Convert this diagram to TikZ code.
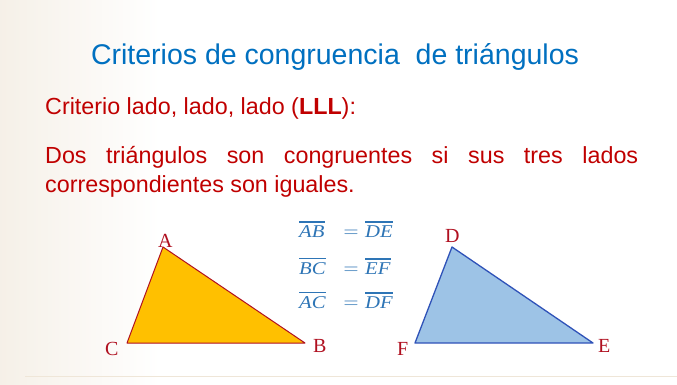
\documentclass[tikz,border=0pt]{standalone}
\usepackage{fontspec}
\setmainfont{Liberation Sans}
\newfontfamily\serifont{Liberation Serif}
\newfontfamily\eqfont[FakeStretch=1.15]{Liberation Serif}
\definecolor{titleblue}{HTML}{0070C0}
\definecolor{darkred}{HTML}{C00000}
\definecolor{labelred}{HTML}{B01020}
\definecolor{goldfill}{HTML}{FFC000}
\definecolor{bluefill}{HTML}{9DC3E6}
\definecolor{bluestroke}{HTML}{2F52B8}
\definecolor{eqblue}{HTML}{2E75B6}
\definecolor{beige}{HTML}{EFE6D8}
\tikzset{
  vlabel/.style={font=\serifont\fontsize{20}{20}\selectfont, text=labelred, inner sep=0pt, anchor=base west},
  eqtext/.style={font=\eqfont\itshape\fontsize{18}{18}\selectfont, text=eqblue, inner sep=0pt, anchor=base west},
  eqsign/.style={font=\fontsize{22}{22}\selectfont, text=eqblue, inner sep=0pt, anchor=base},
  eqbar/.style={draw=eqblue, line width=1.2pt},
  bodytext/.style={font=\fontsize{23.3}{29}\selectfont, text=darkred, inner sep=0pt, anchor=base west}
}
\newcommand{\barover}[1]{\draw[eqbar] ([yshift=3pt]#1.north west) -- ([yshift=3pt]#1.north east);}
\begin{document}
\begin{tikzpicture}[x=1pt,y=-1pt]
\useasboundingbox (0,0) rectangle (677,384);
\fill[white] (0,0) rectangle (677,384);
\shade[left color=beige!60, right color=white] (0,0) rectangle (160,384);
\draw[beige, line width=1pt] (25,376) -- (677,376);
% title
\node[font=\fontsize{28.5}{30}\selectfont, text=titleblue, inner sep=0pt, anchor=base] (title) at (335,64.5) {Criterios de congruencia\ \ de triángulos};
\node[bodytext] (crit) at (45,114) {Criterio lado, lado, lado (\textbf{LLL}):};
\node[bodytext] (def1) at (45,163) {\makebox[593pt][s]{Dos triángulos son congruentes si sus tres lados}};
\node[bodytext] (def2) at (45,192) {correspondientes son iguales.};
% triangle ABC
\coordinate (A) at (163,247);
\coordinate (B) at (305,343);
\coordinate (C) at (127,343);
\filldraw[fill=goldfill, draw=labelred, line width=1pt, line join=round] (A) -- (B) -- (C) -- cycle;
\node[vlabel] (lA) at (158,247) {A};
\node[vlabel] (lB) at (313,352) {B};
\node[vlabel] (lC) at (105,355) {C};
% triangle DEF
\coordinate (D) at (452,247);
\coordinate (E) at (593,343);
\coordinate (F) at (415,343);
\filldraw[fill=bluefill, draw=bluestroke, line width=1.3pt, line join=round] (D) -- (E) -- (F) -- cycle;
\node[vlabel] (lD) at (445,242) {D};
\node[vlabel] (lE) at (598,352) {E};
\node[vlabel] (lF) at (397,355) {F};
% equations
\node[eqtext] (l1) at (299,237) {AB};
\node[eqsign] (s1) at (351,237) {$=$};
\node[eqtext] (r1) at (365,237) {DE};
\node[eqtext] (l2) at (299,274) {BC};
\node[eqsign] (s2) at (351,274) {$=$};
\node[eqtext] (r2) at (365,274) {EF};
\node[eqtext] (l3) at (299,308) {AC};
\node[eqsign] (s3) at (351,308) {$=$};
\node[eqtext] (r3) at (365,308) {DF};
\barover{l1}\barover{r1}\barover{l2}\barover{r2}\barover{l3}\barover{r3}
\end{tikzpicture}
\end{document}
